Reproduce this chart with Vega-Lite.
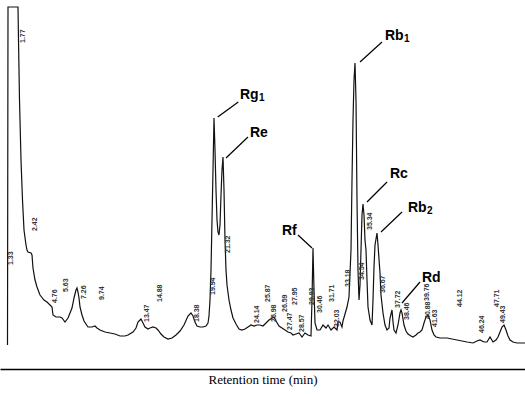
{
  "$schema": "https://vega.github.io/schema/vega-lite/v6.json",
  "width": 525,
  "height": 369,
  "autosize": {"type": "none"},
  "padding": {"left": 0, "right": 0, "top": 0, "bottom": 25},
  "background": "white",
  "config": {"view": {"stroke": null}},
  "datasets": {
    "trace": [
      {"t":0.75,"v":0},{"t":0.8,"v":338},{"t":1.8,"v":338},{"t":1.85,"v":305},{"t":1.95,"v":245},{"t":2.1,"v":185},{"t":2.25,"v":145},{"t":2.4,"v":115},{"t":2.6,"v":100},{"t":2.7,"v":95},{"t":2.8,"v":93},{"t":3.1,"v":92},{"t":3.2,"v":90},{"t":3.3,"v":77},{"t":3.5,"v":65},{"t":3.7,"v":58},{"t":4.0,"v":50},{"t":4.4,"v":45},{"t":4.7,"v":43},{"t":5.0,"v":40},{"t":5.2,"v":38},{"t":5.3,"v":30},{"t":5.6,"v":28},{"t":6.0,"v":28},{"t":6.2,"v":27},{"t":6.5,"v":23},{"t":6.8,"v":27},{"t":7.0,"v":32},{"t":7.2,"v":37},{"t":7.4,"v":47},{"t":7.6,"v":55},{"t":7.7,"v":57},{"t":7.8,"v":53},{"t":7.9,"v":47},{"t":8.0,"v":38},{"t":8.2,"v":30},{"t":8.4,"v":24},{"t":8.8,"v":18},{"t":9.2,"v":18},{"t":9.5,"v":19},{"t":9.7,"v":17},{"t":10.0,"v":15},{"t":10.5,"v":13},{"t":11.0,"v":12},{"t":11.5,"v":11},{"t":12.0,"v":9},{"t":12.5,"v":9},{"t":12.8,"v":10},{"t":13.3,"v":13},{"t":13.6,"v":17},{"t":13.8,"v":23},{"t":14.0,"v":25},{"t":14.1,"v":26},{"t":14.3,"v":22},{"t":14.5,"v":18},{"t":14.8,"v":16},{"t":15.0,"v":17},{"t":15.3,"v":18},{"t":15.6,"v":17},{"t":15.8,"v":15},{"t":16.1,"v":11},{"t":16.4,"v":8},{"t":16.8,"v":6},{"t":17.2,"v":7},{"t":17.6,"v":10},{"t":18.0,"v":14},{"t":18.4,"v":20},{"t":18.8,"v":29},{"t":19.1,"v":32},{"t":19.3,"v":29},{"t":19.5,"v":23},{"t":19.7,"v":19},{"t":20.0,"v":18},{"t":20.3,"v":18},{"t":20.6,"v":19},{"t":20.8,"v":22},{"t":20.9,"v":29},{"t":21.0,"v":45},{"t":21.1,"v":75},{"t":21.2,"v":125},{"t":21.3,"v":175},{"t":21.4,"v":227},{"t":21.5,"v":195},{"t":21.6,"v":155},{"t":21.7,"v":125},{"t":21.8,"v":113},{"t":21.9,"v":110},{"t":22.0,"v":120},{"t":22.1,"v":150},{"t":22.2,"v":175},{"t":22.3,"v":188},{"t":22.4,"v":155},{"t":22.5,"v":105},{"t":22.6,"v":75},{"t":22.7,"v":60},{"t":22.9,"v":45},{"t":23.1,"v":35},{"t":23.3,"v":27},{"t":23.6,"v":21},{"t":23.9,"v":16},{"t":24.2,"v":15},{"t":24.5,"v":16},{"t":24.8,"v":18},{"t":25.1,"v":20},{"t":25.4,"v":19},{"t":25.7,"v":20},{"t":26.0,"v":20},{"t":26.3,"v":19},{"t":26.6,"v":22},{"t":26.9,"v":25},{"t":27.2,"v":27},{"t":27.4,"v":28},{"t":27.6,"v":24},{"t":27.9,"v":19},{"t":28.2,"v":17},{"t":28.5,"v":15},{"t":28.8,"v":13},{"t":29.1,"v":12},{"t":29.3,"v":10},{"t":29.6,"v":11},{"t":29.9,"v":12},{"t":30.2,"v":8},{"t":30.5,"v":12},{"t":30.8,"v":10},{"t":31.1,"v":9},{"t":31.2,"v":45},{"t":31.3,"v":97},{"t":31.4,"v":55},{"t":31.5,"v":22},{"t":31.7,"v":15},{"t":32.0,"v":15},{"t":32.3,"v":20},{"t":32.6,"v":17},{"t":32.8,"v":20},{"t":33.1,"v":15},{"t":33.4,"v":18},{"t":33.7,"v":15},{"t":33.8,"v":23},{"t":34.0,"v":23},{"t":34.2,"v":18},{"t":34.3,"v":24},{"t":34.5,"v":31},{"t":34.7,"v":38},{"t":34.9,"v":48},{"t":35.1,"v":95},{"t":35.2,"v":165},{"t":35.3,"v":225},{"t":35.4,"v":265},{"t":35.5,"v":282},{"t":35.6,"v":245},{"t":35.7,"v":145},{"t":35.8,"v":75},{"t":35.9,"v":45},{"t":36.0,"v":60},{"t":36.1,"v":95},{"t":36.2,"v":130},{"t":36.3,"v":141},{"t":36.4,"v":130},{"t":36.5,"v":105},{"t":36.6,"v":95},{"t":36.7,"v":65},{"t":36.8,"v":38},{"t":37.0,"v":25},{"t":37.2,"v":20},{"t":37.3,"v":45},{"t":37.4,"v":78},{"t":37.5,"v":100},{"t":37.7,"v":112},{"t":37.8,"v":100},{"t":38.0,"v":72},{"t":38.1,"v":50},{"t":38.3,"v":32},{"t":38.5,"v":20},{"t":38.7,"v":15},{"t":38.9,"v":17},{"t":39.0,"v":27},{"t":39.2,"v":35},{"t":39.3,"v":23},{"t":39.4,"v":15},{"t":39.6,"v":12},{"t":39.8,"v":20},{"t":40.0,"v":32},{"t":40.1,"v":35},{"t":40.2,"v":32},{"t":40.4,"v":20},{"t":40.6,"v":14},{"t":40.8,"v":11},{"t":41.1,"v":9},{"t":41.3,"v":8},{"t":41.6,"v":10},{"t":41.8,"v":12},{"t":42.0,"v":13},{"t":42.2,"v":15},{"t":42.4,"v":22},{"t":42.6,"v":28},{"t":42.8,"v":30},{"t":43.0,"v":25},{"t":43.2,"v":15},{"t":43.4,"v":10},{"t":43.6,"v":8},{"t":44.0,"v":7},{"t":44.7,"v":7},{"t":45.2,"v":6},{"t":45.7,"v":5},{"t":46.2,"v":4},{"t":46.7,"v":3},{"t":47.3,"v":2},{"t":47.7,"v":4},{"t":48.0,"v":5},{"t":48.4,"v":3},{"t":48.7,"v":3},{"t":49.0,"v":8},{"t":49.3,"v":3},{"t":49.6,"v":5},{"t":49.8,"v":8},{"t":50.0,"v":13},{"t":50.2,"v":18},{"t":50.4,"v":20},{"t":50.6,"v":15},{"t":50.8,"v":9},{"t":51.0,"v":5},{"t":51.3,"v":3},{"t":51.7,"v":2},{"t":52.0,"v":2},{"t":52.5,"v":2}
    ],
    "peaks": [
      {"name":"Rg","sub":"1","t1":21.77,"v1":228,"t2":23.83,"v2":243,"tx":24.0,"vx":246},
      {"name":"Re","sub":"","t1":22.6,"v1":187,"t2":24.8,"v2":208,"tx":25.0,"vx":208},
      {"name":"Rf","sub":"","t1":31.2,"v1":97,"t2":29.8,"v2":110,"tx":28.2,"vx":110},
      {"name":"Rb","sub":"1","t1":36.0,"v1":283,"t2":38.2,"v2":303,"tx":38.5,"vx":305},
      {"name":"Rc","sub":"","t1":36.7,"v1":143,"t2":38.7,"v2":163,"tx":39.0,"vx":167},
      {"name":"Rb","sub":"2","t1":38.1,"v1":113,"t2":40.2,"v2":133,"tx":40.8,"vx":133},
      {"name":"Rd","sub":"","t1":40.2,"v1":42,"t2":42.0,"v2":63,"tx":42.2,"vx":63}
    ],
    "rt": [
      {"lab":"1.77","t":2.3,"v":302},{"lab":"1.33","t":1.1,"v":80},{"lab":"2.42","t":3.5,"v":114},{"lab":"4.76","t":5.5,"v":42},{"lab":"5.63","t":6.6,"v":53},{"lab":"7.26","t":8.4,"v":46},{"lab":"9.74","t":10.2,"v":45},{"lab":"13.47","t":14.7,"v":23},{"lab":"14.88","t":16.0,"v":43},{"lab":"18.38","t":19.7,"v":23},{"lab":"19.94","t":21.3,"v":50},{"lab":"21.32","t":22.8,"v":92},{"lab":"24.14","t":25.7,"v":22},{"lab":"25.87","t":26.8,"v":43},{"lab":"25.98","t":27.4,"v":23},{"lab":"26.59","t":28.5,"v":33},{"lab":"27.47","t":29.0,"v":15},{"lab":"27.95","t":29.5,"v":40},{"lab":"28.57","t":30.2,"v":13},{"lab":"29.93","t":31.2,"v":40},{"lab":"30.46","t":32.0,"v":32},{"lab":"31.71","t":33.2,"v":43},{"lab":"32.03","t":33.7,"v":18},{"lab":"33.18","t":34.8,"v":58},{"lab":"34.54","t":36.2,"v":65},{"lab":"35.34","t":37.0,"v":115},{"lab":"36.67","t":38.3,"v":52},{"lab":"37.72","t":39.8,"v":37},{"lab":"38.46","t":40.7,"v":25},{"lab":"39.76","t":42.7,"v":44},{"lab":"40.88","t":42.8,"v":26},{"lab":"41.63","t":43.5,"v":18},{"lab":"44.12","t":46.0,"v":38},{"lab":"46.24","t":48.2,"v":12},{"lab":"47.71","t":49.7,"v":38},{"lab":"49.43","t":50.3,"v":22}
    ]
  },
  "layer": [
    {
      "data": {"name": "trace"},
      "mark": {"type": "line", "color": "#111", "strokeWidth": 1.2, "interpolate": "linear"},
      "encoding": {
        "x": {"field": "t", "type": "quantitative", "scale": {"domain": [0, 52.5], "nice": false, "zero": false},
              "axis": {"title": "Retention time (min)", "labels": false, "ticks": false, "grid": false, "domain": true,
                       "domainColor": "#000", "domainWidth": 1.3, "titleFont": "Liberation Serif", "titleFontSize": 13,
                       "titleFontWeight": "normal", "titleColor": "#000", "titlePadding": 4}},
        "y": {"field": "v", "type": "quantitative", "scale": {"domain": [-24, 345], "nice": false, "zero": false}, "axis": null}
      }
    },
    {
      "data": {"name": "peaks"},
      "mark": {"type": "rule", "color": "#000", "strokeWidth": 1.2},
      "encoding": {
        "x": {"field": "t1", "type": "quantitative"},
        "y": {"field": "v1", "type": "quantitative"},
        "x2": {"field": "t2"},
        "y2": {"field": "v2"}
      }
    },
    {
      "data": {"name": "peaks"},
      "mark": {"type": "text", "font": "Liberation Sans", "fontWeight": "bold", "fontSize": 14, "align": "left", "baseline": "alphabetic", "color": "#000"},
      "encoding": {
        "x": {"field": "tx", "type": "quantitative"},
        "y": {"field": "vx", "type": "quantitative"},
        "text": {"field": "name"}
      }
    },
    {
      "data": {"name": "peaks"},
      "mark": {"type": "text", "font": "Liberation Sans", "fontWeight": "bold", "fontSize": 10, "align": "left", "baseline": "alphabetic", "color": "#000", "dx": 19, "dy": 2},
      "encoding": {
        "x": {"field": "tx", "type": "quantitative"},
        "y": {"field": "vx", "type": "quantitative"},
        "text": {"field": "sub"}
      }
    },
    {
      "data": {"name": "rt"},
      "mark": {"type": "text", "font": "Liberation Sans", "fontWeight": "bold", "fontSize": 7, "angle": 270, "align": "left", "baseline": "middle", "color": "#333"},
      "encoding": {
        "x": {"field": "t", "type": "quantitative"},
        "y": {"field": "v", "type": "quantitative"},
        "text": {"field": "lab"}
      }
    }
  ]
}
